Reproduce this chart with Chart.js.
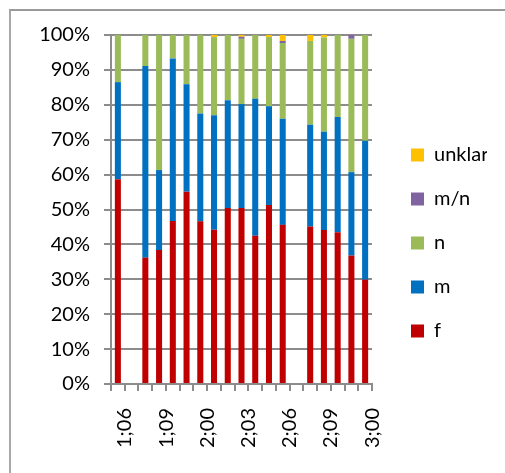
<!DOCTYPE html>
<html><head><meta charset="utf-8">
<script src="https://cdn.jsdelivr.net/npm/chart.js@4"></script>
<style>
html,body{margin:0;padding:0;background:#fff;}
#wrap{position:relative;width:505px;height:473px;overflow:hidden;background:#fff;}
#frame{position:absolute;left:9px;top:9px;width:600px;height:600px;border-top:2px solid #9a9a9a;border-left:2px solid #a8a8a8;}
canvas{position:absolute;left:0;top:0;}
</style></head><body>
<div id="wrap"><div id="frame"></div><canvas id="c" width="505" height="473"></canvas></div>
<script>
const categories = ['1;06','1;07','1;08','1;09','1;10','1;11','2;00','2;01','2;02','2;03','2;04','2;05','2;06','2;07','2;08','2;09','2;10','2;11','3;00'];
const fValues      = [58.7, null, 36.2, 38.4, 46.7, 55.1, 46.6, 44.2, 50.4, 50.4, 42.5, 51.3, 45.6, null, 45.1, 44.1, 43.5, 36.8, 29.9];
const mValues      = [27.8, null, 54.9, 22.9, 46.6, 30.8, 30.9, 32.8, 30.9, 29.8, 39.2, 28.3, 30.4, null, 29.2, 28.2, 33.0, 23.9, 39.8];
const nValues      = [13.5, null,  8.9, 38.7,  6.7, 14.1, 22.5, 22.4, 18.7, 18.7, 18.3, 19.8, 21.7, null, 24.0, 27.0, 23.5, 38.2, 30.3];
const mnValues     = [0, null, 0, 0, 0, 0, 0, 0, 0, 0.6, 0, 0, 0.6, null, 0, 0, 0, 1.1, 0];
const unklarValues = [0, null, 0, 0, 0, 0, 0, 0.6, 0, 0.5, 0, 0.6, 1.7, null, 1.7, 0.7, 0, 0, 0];
const yTicks = [0,10,20,30,40,50,60,70,80,90,100];

Chart.defaults.font.family = 'Lato, "Liberation Sans", sans-serif';
Chart.defaults.font.size = 20;
Chart.defaults.color = '#000';

const gridColor = '#8c8c8c';
const ds = (label, data, color) => ({label, data, backgroundColor: color, borderWidth: 0, barPercentage: 0.44, categoryPercentage: 1});

new Chart(document.getElementById('c'), {
  type: 'bar',
  data: {
    labels: categories,
    datasets: [
      ds('f', fValues, '#C00000'),
      ds('m', mValues, '#0070C0'),
      ds('n', nValues, '#9BBB59'),
      ds('m/n', mnValues, '#8064A2'),
      ds('unklar', unklarValues, '#FFC000')
    ]
  },
  options: {
    responsive: false,
    animation: false,
    layout: {padding: {top: 35, right: 18, bottom: 22, left: 0}},
    plugins: {
      legend: {
        position: 'right',
        reverse: true,
        maxWidth: 100,
        labels: {boxWidth: 13, boxHeight: 13, padding: 24, font: {size: 20}, color: '#000'}
      },
      tooltip: {enabled: false}
    },
    scales: {
      x: {
        stacked: true,
        grid: {offset: true, drawOnChartArea: false, drawTicks: true, tickLength: 7, color: gridColor, lineWidth: 2},
        border: {display: true, color: gridColor, width: 2},
        ticks: {autoSkip: false, minRotation: 90, maxRotation: 90, padding: 17, labelOffset: 7,
          callback: (v, i) => (i % 3 === 0 ? categories[i] : '')},
        afterFit: s => { s.height = 67; }
      },
      y: {
        stacked: true,
        min: 0, max: 100,
        afterBuildTicks: s => { s.ticks = yTicks.map(v => ({value: v})); },
        ticks: {padding: 14, callback: v => v + '%'},
        grid: {color: gridColor, lineWidth: 2, tickLength: 7},
        border: {display: true, color: gridColor, width: 2},
        afterFit: s => { s.width = 111; }
      },
      yR: {
        type: 'linear', position: 'right', display: true,
        grid: {display: false, drawTicks: false},
        ticks: {display: false},
        border: {display: false},
        afterFit: s => { s.width = 15; }
      }
    }
  }
});
</script>
</body></html>
